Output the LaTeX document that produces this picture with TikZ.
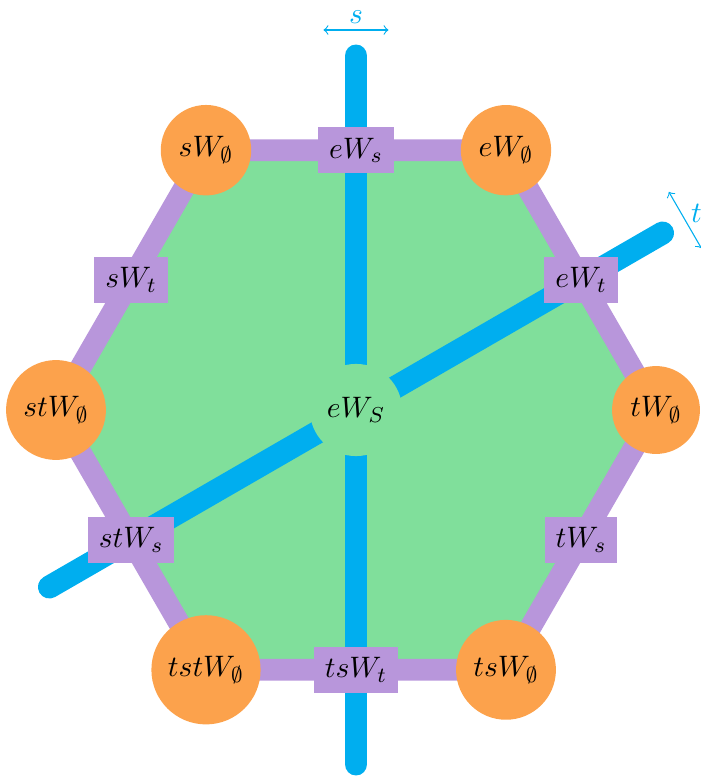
\documentclass[tikz,border=0pt]{standalone}
\usepackage{amsmath,amssymb}
\definecolor{chambergreen}{RGB}{128,223,155}
\definecolor{wallpurple}{RGB}{184,150,219}
\definecolor{cosetorange}{RGB}{252,162,76}
\definecolor{mirrorblue}{RGB}{0,174,239}
\pgfdeclarelayer{chamberlayer}
\pgfdeclarelayer{walllayer}
\pgfsetlayers{chamberlayer,walllayer,main}

\begin{document}
\begin{tikzpicture}[x=1.3cm, y=1.3cm,
	every node/.style={font=\fontsize{10.95}{13}\selectfont},
	coset/.style={circle, fill=cosetorange, inner sep=4pt},
	panel/.style={rectangle, fill=wallpurple, inner sep=4pt},
	mirror/.style={mirrorblue, line width=8.5pt, line cap=round},
	wall/.style={wallpurple, line width=8pt},
	reflect/.style={mirrorblue, thin, <->}]
	\useasboundingbox (-3.56,-3.73) rectangle (3.45,4.10);
	\node[circle, fill=chambergreen, inner sep=4pt] (c) at (0,0) {$eW_S$};
	\node[coset] (v0) at (0:3) {$tW_\emptyset$};
	\node[coset] (v1) at (60:3) {$eW_\emptyset$};
	\node[coset] (v2) at (120:3) {$sW_\emptyset$};
	\node[coset] (v3) at (180:3) {$stW_\emptyset$};
	\node[coset] (v4) at (240:3) {$tstW_\emptyset$};
	\node[coset] (v5) at (300:3) {$tsW_\emptyset$};
	\node[panel] (f0) at (30:2.598) {$eW_t$};
	\node[panel] (f1) at (90:2.598) {$eW_s$};
	\node[panel] (f2) at (150:2.598) {$sW_t$};
	\node[panel] (f3) at (210:2.598) {$stW_s$};
	\node[panel] (f4) at (270:2.598) {$tsW_t$};
	\node[panel] (f5) at (330:2.598) {$tW_s$};
	\coordinate (s1) at (90:3.54);
	\coordinate (s2) at (270:3.54);
	\coordinate (t1) at (30:3.54);
	\coordinate (t2) at (210:3.54);
	\begin{pgfonlayer}{chamberlayer}
		\fill[chambergreen] (v0.center) -- (v1.center) -- (v2.center) -- (v3.center) -- (v4.center) -- (v5.center) -- cycle;
	\end{pgfonlayer}
	\begin{pgfonlayer}{walllayer}
		\draw[mirror] (s1) -- (s2);
		\draw[mirror] (t1) -- (t2);
		\draw[wall] (v0.center) -- (v1.center) -- (v2.center) -- (v3.center) -- (v4.center) -- (v5.center) -- cycle;
	\end{pgfonlayer}
	% small arrows marking the two reflections
	\coordinate (sa) at ([shift={(90:3.8)}]180:0.325);
	\coordinate (sb) at ([shift={(90:3.8)}]0:0.325);
	\coordinate (ta) at ([shift={(30:3.8)}]120:0.325);
	\coordinate (tb) at ([shift={(30:3.8)}]300:0.325);
	\draw[reflect] (sa) -- (sb);
	\draw[reflect] (ta) -- (tb);
	\node[mirrorblue] (sl) at (90:3.93) {$s$};
	\node[mirrorblue] (tl) at (30:3.93) {$t$};
\end{tikzpicture}
\end{document}
